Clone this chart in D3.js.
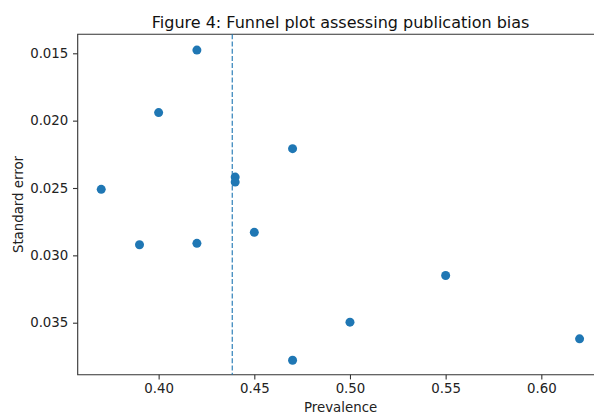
<!DOCTYPE html>
<html>
<head>
<meta charset="utf-8">
<script src="https://cdn.jsdelivr.net/npm/d3@7"></script>
<style>
  body { margin: 0; background: #fff; }
  svg { display: block; font-family: "DejaVu Sans", sans-serif; }
</style>
</head>
<body>
<div id="chart"></div>
<script>
// Study prevalence and standard error
const prevalence = [0.42, 0.40, 0.47, 0.37, 0.44, 0.44, 0.39, 0.42, 0.45, 0.47, 0.50, 0.55, 0.62];
const stdError = [0.01476, 0.0194, 0.02208, 0.0251, 0.02419, 0.02456, 0.02921, 0.02911, 0.02829, 0.03779, 0.03496, 0.0315, 0.0362];
const pooled = 0.4385;
const xTicks = [0.40, 0.45, 0.50, 0.55, 0.60];
const yTicks = [0.015, 0.020, 0.025, 0.030, 0.035];

const width = 594, height = 415;
const margin = { top: 34.3, left: 77.7, bottom: 415 - 374.7, right: 594 - 603.5 };
const blue = "#1f77b4";

const svg = d3.select("#chart").append("svg")
    .attr("width", width)
    .attr("height", height);

// Scales: x spans past the right edge of the picture, y is inverted
const x = d3.scaleLinear()
    .domain([0.3577, 0.6325])
    .range([margin.left, width - margin.right]);
const y = d3.scaleLinear()
    .domain([0.01359, 0.03886])
    .range([margin.top, height - margin.bottom]);

// Axes
const xAxis = svg.append("g")
    .attr("transform", `translate(0,${height - margin.bottom})`)
    .call(d3.axisBottom(x).tickValues(xTicks).tickFormat(d3.format(".2f")).tickSizeOuter(0).tickSize(4.7).tickPadding(4.5));
const yAxis = svg.append("g")
    .attr("transform", `translate(${margin.left},0)`)
    .call(d3.axisLeft(y).tickValues(yTicks).tickFormat(d3.format(".3f")).tickSizeOuter(0).tickSize(4.7).tickPadding(4.7));

[xAxis, yAxis].forEach(a => {
    a.select(".domain").remove();
    a.selectAll("line").attr("stroke", "#333").attr("stroke-width", 1.1);
    a.selectAll("text").attr("fill", "#222").style("font-size", "13.33px").style("font-family", "DejaVu Sans");
});

// Spines: left, bottom and top (right one falls outside the picture)
svg.append("path")
    .attr("d", `M${x.range()[1]},${y.range()[0]}H${x.range()[0]}V${y.range()[1]}H${x.range()[1]}`)
    .attr("fill", "none")
    .attr("stroke", "#333")
    .attr("stroke-width", 1.1);

// Pooled estimate
svg.append("line")
    .attr("x1", x(pooled)).attr("x2", x(pooled))
    .attr("y1", y.range()[0]).attr("y2", y.range()[1])
    .attr("stroke", blue)
    .attr("stroke-opacity", 0.8)
    .attr("stroke-width", 1.4)
    .attr("stroke-dasharray", "5,2.2");

// Studies
svg.append("g").selectAll("circle")
    .data(prevalence.map((p, i) => ({ p, se: stdError[i] })))
    .join("circle")
    .attr("cx", d => x(d.p))
    .attr("cy", d => y(d.se))
    .attr("r", 4.5)
    .attr("fill", blue);

// Title and labels
svg.append("text")
    .attr("x", (x.range()[0] + x.range()[1]) / 2)
    .attr("y", 27.5)
    .attr("text-anchor", "middle")
    .style("font-size", "16px")
    .attr("fill", "#111")
    .text("Figure 4: Funnel plot assessing publication bias");

svg.append("text")
    .attr("x", (x.range()[0] + x.range()[1]) / 2)
    .attr("y", 412)
    .attr("text-anchor", "middle")
    .style("font-size", "13.33px")
    .attr("fill", "#222")
    .text("Prevalence");

svg.append("text")
    .attr("transform", `translate(23,${(y.range()[0] + y.range()[1]) / 2}) rotate(-90)`)
    .attr("text-anchor", "middle")
    .style("font-size", "13.33px")
    .attr("fill", "#222")
    .text("Standard error");
</script>
</body>
</html>
